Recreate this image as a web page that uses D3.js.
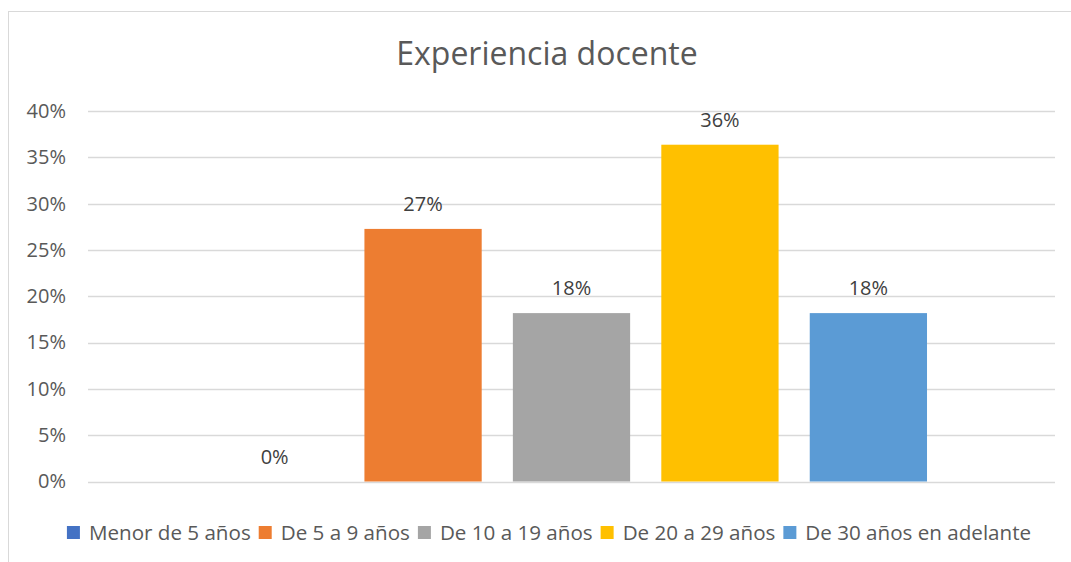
<!DOCTYPE html>
<html>
<head>
<meta charset="utf-8">
<script src="https://cdn.jsdelivr.net/npm/d3@7.9.0/dist/d3.min.js"></script>
<style>
  body { margin: 0; background: #fff; }
  svg { display: block; font-family: 'Open Sans', sans-serif; }
</style>
</head>
<body>
<svg width="1071" height="562"></svg>
<script>
const title = 'Experiencia docente';
const series = ['Menor de 5 años', 'De 5 a 9 años', 'De 10 a 19 años', 'De 20 a 29 años', 'De 30 años en adelante'];
const values = [0, 0.2727, 0.1818, 0.3636, 0.1818];
const labels = ['0%', '27%', '18%', '36%', '18%'];
const colorList = ['#4472C4', '#ED7D31', '#A5A5A5', '#FFC000', '#5B9BD5'];
const yTicks = [0, 0.05, 0.1, 0.15, 0.2, 0.25, 0.3, 0.35, 0.4];

const svg = d3.select('svg');

// chart frame (continues past the right/bottom edge, as in the picture)
svg.append('rect')
  .attr('x', 8.5).attr('y', 11.5)
  .attr('width', 1082).attr('height', 600)
  .attr('fill', 'none').attr('stroke', '#d9d9d9');

const plotLeft = 88, plotRight = 1055, plotTop = 111, plotBottom = 481.5;

let y = d3.scaleLinear().domain([0, 0.4]).range([plotBottom, plotTop]);
let x0 = d3.scaleBand().domain(['']).range([plotLeft, plotRight]).paddingOuter(0.18);
let x1 = d3.scaleBand().domain(series).range([0, x0.bandwidth()]).paddingInner(0.21);
let colors = d3.scaleOrdinal().domain(series).range(colorList);

// gridlines
svg.append('g')
  .selectAll('line')
  .data(yTicks)
  .join('line')
  .attr('x1', plotLeft).attr('x2', plotRight)
  .attr('y1', d => Math.round(y(d)) + 0.5)
  .attr('y2', d => Math.round(y(d)) + 0.5)
  .attr('stroke', '#d9d9d9')
  .attr('stroke-width', 1.3);

// y axis labels
let yAxis = d3.axisLeft(y).tickValues(yTicks).tickFormat(d3.format('.0%')).tickSize(0).tickPadding(22);
let yg = svg.append('g').attr('transform', `translate(${plotLeft},0)`).call(yAxis);
yg.select('.domain').remove();
yg.selectAll('text')
  .attr('fill', '#595959')
  .style('font-size', '20px')
  .style('font-family', "'Open Sans', sans-serif");

// bars
let g = svg.append('g').attr('transform', `translate(${x0('')},0)`);
g.selectAll('rect')
  .data(series)
  .join('rect')
  .attr('x', d => x1(d))
  .attr('y', (d, i) => y(values[i]))
  .attr('width', x1.bandwidth())
  .attr('height', (d, i) => y(0) - y(values[i]))
  .attr('fill', d => colors(d));

// data labels
g.selectAll('text')
  .data(series)
  .join('text')
  .attr('x', d => x1(d) + x1.bandwidth() / 2)
  .attr('y', (d, i) => y(values[i]) - 18)
  .attr('text-anchor', 'middle')
  .attr('fill', '#404040')
  .style('font-size', '20px')
  .text((d, i) => labels[i]);

// title
svg.append('text')
  .attr('x', 547).attr('y', 65)
  .attr('text-anchor', 'middle')
  .attr('fill', '#595959')
  .style('font-size', '32px')
  .text(title);

// legend
let legend = svg.append('g');
let items = legend.selectAll('g')
  .data(series)
  .join('g');
items.append('rect')
  .attr('width', 13).attr('height', 13)
  .attr('y', 526)
  .attr('fill', d => colors(d));
items.append('text')
  .attr('x', 22).attr('y', 540)
  .attr('fill', '#595959')
  .style('font-size', '20.6px')
  .text(d => d);

let pos = 0;
items.each(function () {
  let w = d3.select(this).select('text').node().getComputedTextLength();
  d3.select(this).attr('transform', `translate(${pos},0)`);
  pos += 22 + w + 8;
});
let total = pos - 8;
legend.attr('transform', `translate(${549 - total / 2},0)`);
</script>
</body>
</html>
